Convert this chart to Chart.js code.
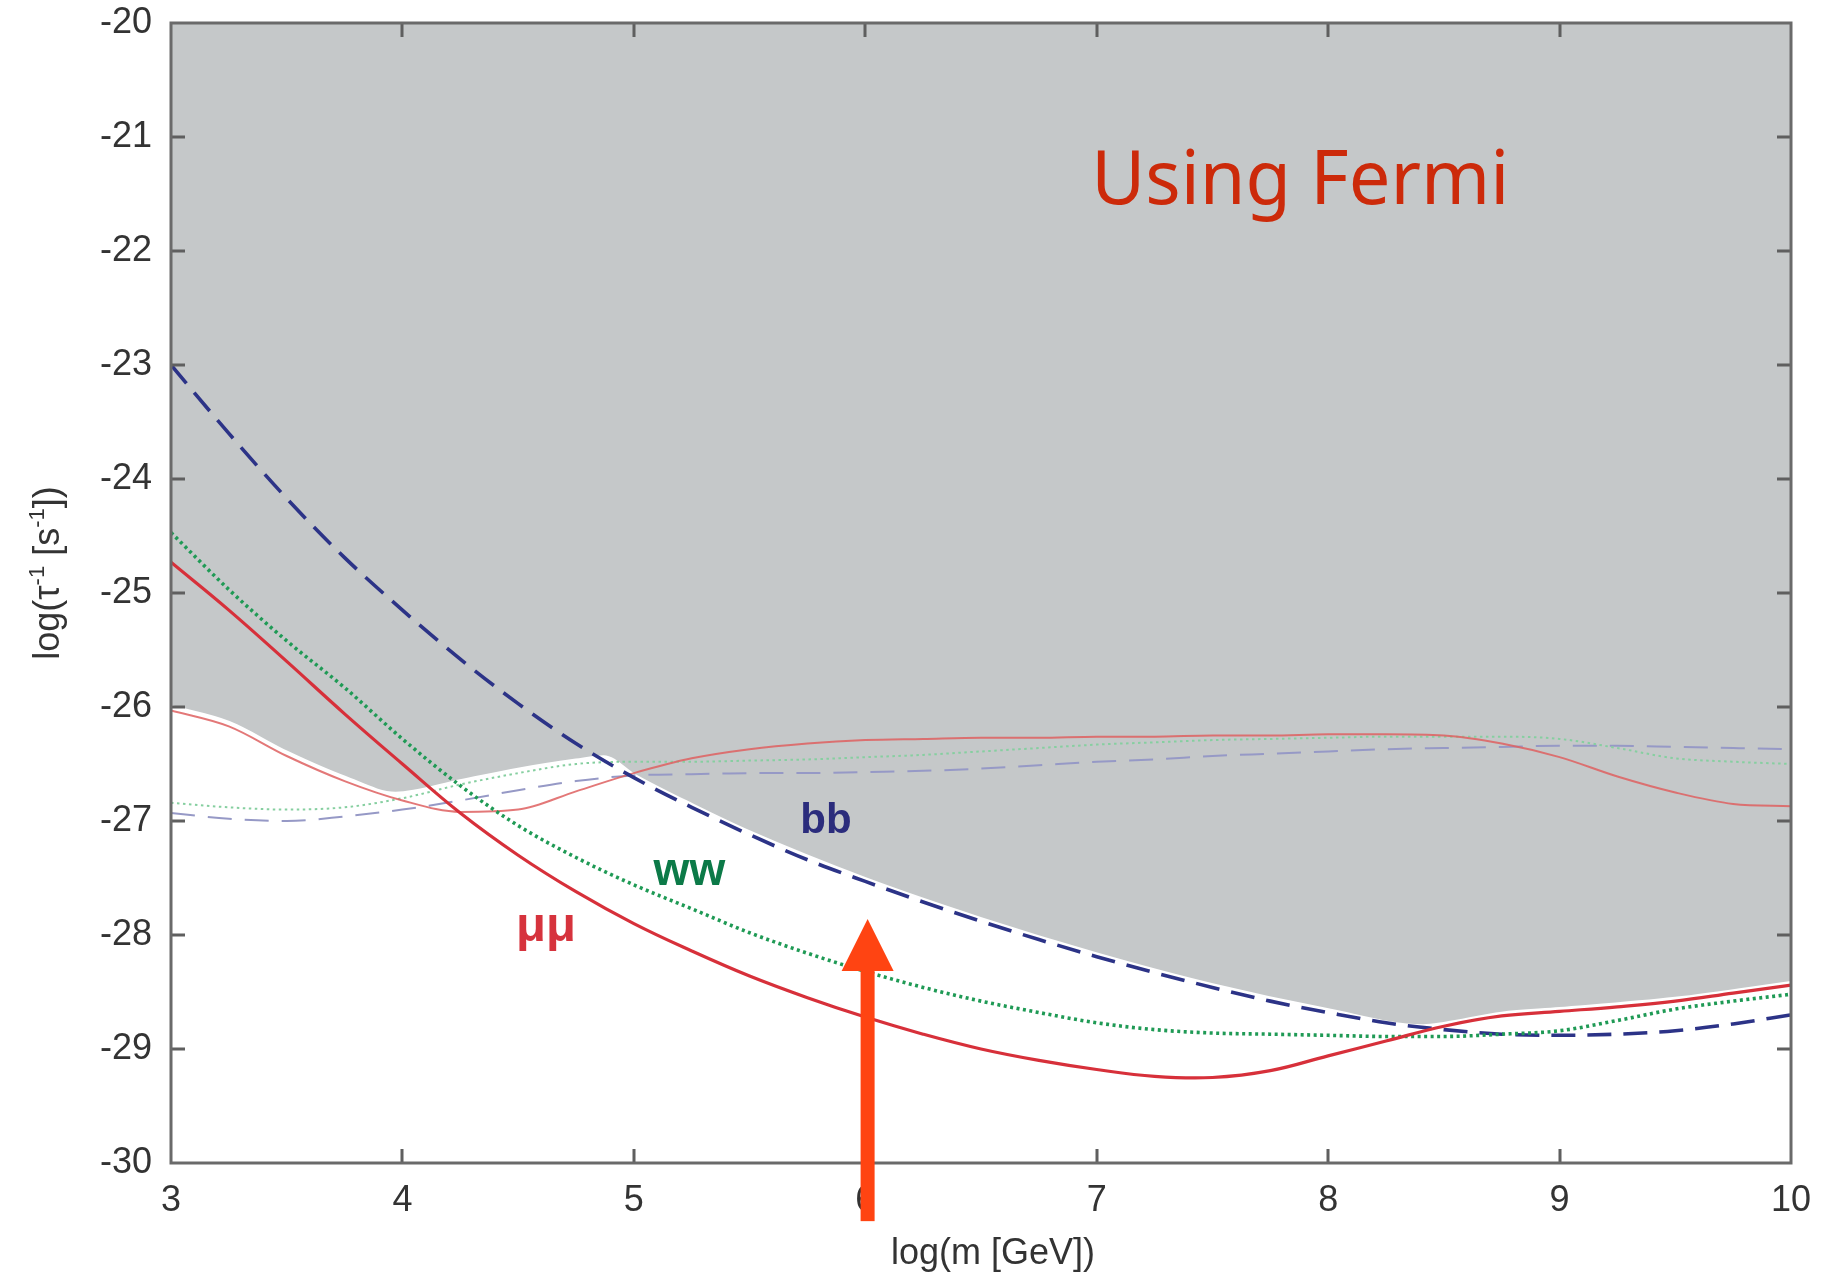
<!DOCTYPE html>
<html>
<head>
<meta charset="utf-8">
<title>Dark matter decay rate limits</title>
<script src="https://cdn.jsdelivr.net/npm/chart.js@4.4.1/dist/chart.umd.min.js"></script>
<style>
  html, body { margin: 0; padding: 0; background: #ffffff; }
  canvas { display: block; }
</style>
</head>
<body>
<canvas id="limits" width="1824" height="1276"></canvas>
<script>
// log10 of the dark-matter mass in GeV, shared by every curve
const massGrid = [3, 3.25, 3.5, 3.75, 4, 4.25, 4.5, 4.75, 5, 5.25, 5.5, 5.75, 6, 6.25, 6.5,
                  6.75, 7, 7.25, 7.5, 7.75, 8, 8.25, 8.5, 8.75, 9, 9.25, 9.5, 9.75, 10];

// Fermi limits on log10 of the decay rate (s^-1), one per channel
const bbFermi = [-23.00, -23.60, -24.17, -24.69, -25.15, -25.58, -25.97, -26.32, -26.62, -26.88,
                 -27.12, -27.34, -27.53, -27.71, -27.88, -28.04, -28.19, -28.33, -28.46, -28.58,
                 -28.68, -28.77, -28.83, -28.87, -28.88, -28.87, -28.84, -28.78, -28.70];
const wwFermi = [-24.47, -24.97, -25.42, -25.83, -26.28, -26.69, -27.04, -27.32, -27.56, -27.77,
                 -27.98, -28.16, -28.32, -28.46, -28.58, -28.68, -28.77, -28.83, -28.86, -28.87,
                 -28.88, -28.89, -28.89, -28.87, -28.84, -28.75, -28.65, -28.58, -28.52];
const muMuFermi = [-24.73, -25.15, -25.60, -26.06, -26.50, -26.93, -27.30, -27.62, -27.90, -28.14,
                   -28.36, -28.55, -28.72, -28.87, -29.00, -29.10, -29.18, -29.24, -29.25, -29.19,
                   -29.06, -28.93, -28.80, -28.71, -28.67, -28.63, -28.58, -28.51, -28.44];

// the weaker companion limits, drawn as thin lines
const muMuOther = [-26.03, -26.17, -26.43, -26.65, -26.82, -26.92, -26.90, -26.74, -26.58, -26.45,
                   -26.37, -26.32, -26.29, -26.28, -26.27, -26.27, -26.26, -26.26, -26.25, -26.25,
                   -26.24, -26.24, -26.25, -26.32, -26.44, -26.61, -26.75, -26.85, -26.87];
const wwOther = [-26.84, -26.88, -26.90, -26.88, -26.80, -26.68, -26.58, -26.50, -26.48, -26.48,
                 -26.47, -26.46, -26.44, -26.42, -26.39, -26.36, -26.33, -26.31, -26.29, -26.28,
                 -26.27, -26.26, -26.26, -26.26, -26.28, -26.36, -26.45, -26.48, -26.50];
const bbOther = [-26.93, -26.98, -27.00, -26.96, -26.90, -26.82, -26.73, -26.65, -26.60, -26.59,
                 -26.58, -26.58, -26.57, -26.56, -26.54, -26.51, -26.48, -26.46, -26.43, -26.41,
                 -26.39, -26.37, -26.36, -26.35, -26.34, -26.34, -26.35, -26.36, -26.37];

// lower edge of the excluded (shaded) region
const excludedMass = [3, 3.25, 3.5, 3.75, 3.97, 4.25, 4.5, 4.75, 4.87, 5, 5.25, 5.5, 6, 6.5, 7,
                      7.5, 8, 8.41, 8.5, 8.75, 9, 9.5, 10];
const excludedRate = [-26.00, -26.14, -26.40, -26.62, -26.76, -26.65, -26.55, -26.47, -26.44, -26.60,
                      -26.86, -27.10, -27.51, -27.86, -28.17, -28.44, -28.66, -28.80, -28.78, -28.69,
                      -28.65, -28.56, -28.42];

// axis ticks
const massTicks = [3, 4, 5, 6, 7, 8, 9, 10];
const rateTicks = [-30, -29, -28, -27, -26, -25, -24, -23, -22, -21, -20];

// channel names written next to the curves
const channelNames = ['μμ', 'ww', 'bb'];
const channelNameMass = [4.62, 5.24, 5.83];
const channelNameRate = [-27.93, -27.45, -27.00];
const channelColors = ['#d6333d', '#0c7a48', '#2b2c7c'];

const FONT = "'Liberation Sans', Arial, Helvetica, sans-serif";
const INK = '#333333';

const toPoints = (xs, ys) => xs.map((x, i) => ({ x: x, y: ys[i] }));

// keep the plot box exactly where the layout padding puts it
const fixBox = (s, size) => {
  if (s.isHorizontal()) s.height = size; else s.width = size;
  s.paddingTop = s.paddingBottom = s.paddingLeft = s.paddingRight = 0;
};

// frame with inward ticks on all four sides
const framePlugin = {
  id: 'frame',
  afterDatasetsDraw(chart) {
    const { ctx, chartArea: a, scales: { x, y } } = chart;
    const len = 14;
    ctx.save();
    ctx.strokeStyle = '#5f5f5f';
    ctx.lineWidth = 3;
    ctx.beginPath();
    massTicks.forEach(v => {
      if (v <= x.min || v >= x.max) return;
      const px = Math.round(x.getPixelForValue(v));
      ctx.moveTo(px, a.bottom); ctx.lineTo(px, a.bottom - len);
      ctx.moveTo(px, a.top); ctx.lineTo(px, a.top + len);
    });
    rateTicks.forEach(v => {
      if (v <= y.min || v >= y.max) return;
      const py = Math.round(y.getPixelForValue(v));
      ctx.moveTo(a.left, py); ctx.lineTo(a.left + len, py);
      ctx.moveTo(a.right, py); ctx.lineTo(a.right - len, py);
    });
    ctx.stroke();
    ctx.strokeStyle = '#6a6a6a';
    ctx.strokeRect(a.left, a.top, a.right - a.left, a.bottom - a.top);
    ctx.restore();
  }
};

// channel names and the panel note
const labelPlugin = {
  id: 'channelLabels',
  afterDatasetsDraw(chart) {
    const { ctx, scales: { x, y } } = chart;
    const sizes = [49, 46, 42];
    ctx.save();
    ctx.textAlign = 'center';
    ctx.textBaseline = 'middle';
    channelNames.forEach((name, i) => {
      ctx.font = 'bold ' + sizes[i] + 'px ' + FONT;
      ctx.fillStyle = channelColors[i];
      ctx.fillText(name, x.getPixelForValue(channelNameMass[i]), y.getPixelForValue(channelNameRate[i]));
    });
    ctx.font = "74px 'Comic Sans MS', 'Noto Sans', sans-serif";
    ctx.fillStyle = '#cc2a0a';
    ctx.textAlign = 'left';
    ctx.textBaseline = 'alphabetic';
    ctx.fillText('Using Fermi', x.getPixelForValue(6.976), y.getPixelForValue(-21.59));
    ctx.restore();
  }
};

// axis titles; the vertical one carries superscripts
const titlePlugin = {
  id: 'axisTitles',
  afterDraw(chart) {
    const { ctx, chartArea: a } = chart;
    ctx.save();
    ctx.fillStyle = INK;
    ctx.font = '36px ' + FONT;
    ctx.textAlign = 'center';
    ctx.textBaseline = 'middle';
    ctx.fillText('log(m [GeV])', (a.left + a.right) / 2 + 12, 1254);

    const parts = [['log(τ', false], ['-1', true], [' [s', false], ['-1', true], ['])', false]];
    const big = '36px ' + FONT, small = '22px ' + FONT;
    let total = 0;
    parts.forEach(([t, sup]) => { ctx.font = sup ? small : big; total += ctx.measureText(t).width; });
    ctx.translate(59, (a.top + a.bottom) / 2 - 20);
    ctx.rotate(-Math.PI / 2);
    ctx.textBaseline = 'alphabetic';
    ctx.textAlign = 'left';
    let cx = -total / 2;
    parts.forEach(([t, sup]) => {
      ctx.font = sup ? small : big;
      ctx.fillText(t, cx, sup ? -15 : 0);
      cx += ctx.measureText(t).width;
    });
    ctx.restore();
  }
};

// arrow pointing at the mass of interest
const arrowPlugin = {
  id: 'arrow',
  afterDraw(chart) {
    const { ctx, scales: { x, y } } = chart;
    const px = x.getPixelForValue(6.01);
    const tip = y.getPixelForValue(-27.86);
    const tail = y.getPixelForValue(-30.51);
    const headLen = 52, headHalf = 26, shaft = 14;
    ctx.save();
    ctx.fillStyle = '#ff4412';
    ctx.fillRect(px - shaft / 2, tip + headLen - 4, shaft, tail - tip - headLen + 4);
    ctx.beginPath();
    ctx.moveTo(px, tip);
    ctx.lineTo(px + headHalf, tip + headLen);
    ctx.lineTo(px - headHalf, tip + headLen);
    ctx.closePath();
    ctx.fill();
    ctx.restore();
  }
};

const thin = { borderWidth: 2, pointRadius: 0 };

new Chart(document.getElementById('limits'), {
  type: 'line',
  data: {
    datasets: [
      { label: 'μμ', data: toPoints(massGrid, muMuFermi), borderColor: '#d7303a', borderWidth: 3.2, order: 1,
        cubicInterpolationMode: 'default', tension: 0.4 },
      { label: 'ww', data: toPoints(massGrid, wwFermi), borderColor: '#1f9a55', borderWidth: 3.6,
        borderDash: [3, 3.5], order: 2 },
      { label: 'bb', data: toPoints(massGrid, bbFermi), borderColor: '#2c3387', borderWidth: 3.6,
        borderDash: [24, 12], order: 3 },
      Object.assign({ label: 'μμ (other)', data: toPoints(massGrid, muMuOther), borderColor: 'rgba(222,96,96,0.85)', order: 4 }, thin),
      Object.assign({ label: 'ww (other)', data: toPoints(massGrid, wwOther), borderColor: '#86cfa0',
        borderDash: [2.5, 3.5], order: 5 }, thin),
      Object.assign({ label: 'bb (other)', data: toPoints(massGrid, bbOther), borderColor: '#9699c6',
        borderDash: [24, 13], order: 6 }, thin),
      { label: 'excluded', data: toPoints(excludedMass, excludedRate), borderColor: '#ffffff', borderWidth: 4,
        backgroundColor: '#c5c8c9', fill: 'end', order: 10 }
    ]
  },
  options: {
    responsive: false,
    animation: false,
    devicePixelRatio: 1,
    layout: { padding: { top: 23, right: 33, left: 0, bottom: 0 } },
    elements: {
      point: { radius: 0 },
      line: { cubicInterpolationMode: 'monotone', borderCapStyle: 'butt' }
    },
    plugins: { legend: { display: false }, tooltip: { enabled: false } },
    scales: {
      x: {
        type: 'linear', min: 3, max: 10,
        afterBuildTicks: s => { s.ticks = massTicks.map(v => ({ value: v })); },
        ticks: { color: INK, font: { family: FONT, size: 36 }, padding: 8 },
        grid: { display: false },
        border: { display: false },
        afterFit: s => fixBox(s, 113)
      },
      y: {
        type: 'linear', min: -30, max: -20,
        afterBuildTicks: s => { s.ticks = rateTicks.map(v => ({ value: v })); },
        ticks: { color: INK, font: { family: FONT, size: 36 }, padding: 11 },
        grid: { display: false },
        border: { display: false },
        afterFit: s => fixBox(s, 171)
      }
    }
  },
  plugins: [framePlugin, labelPlugin, titlePlugin, arrowPlugin]
});
</script>
</body>
</html>
